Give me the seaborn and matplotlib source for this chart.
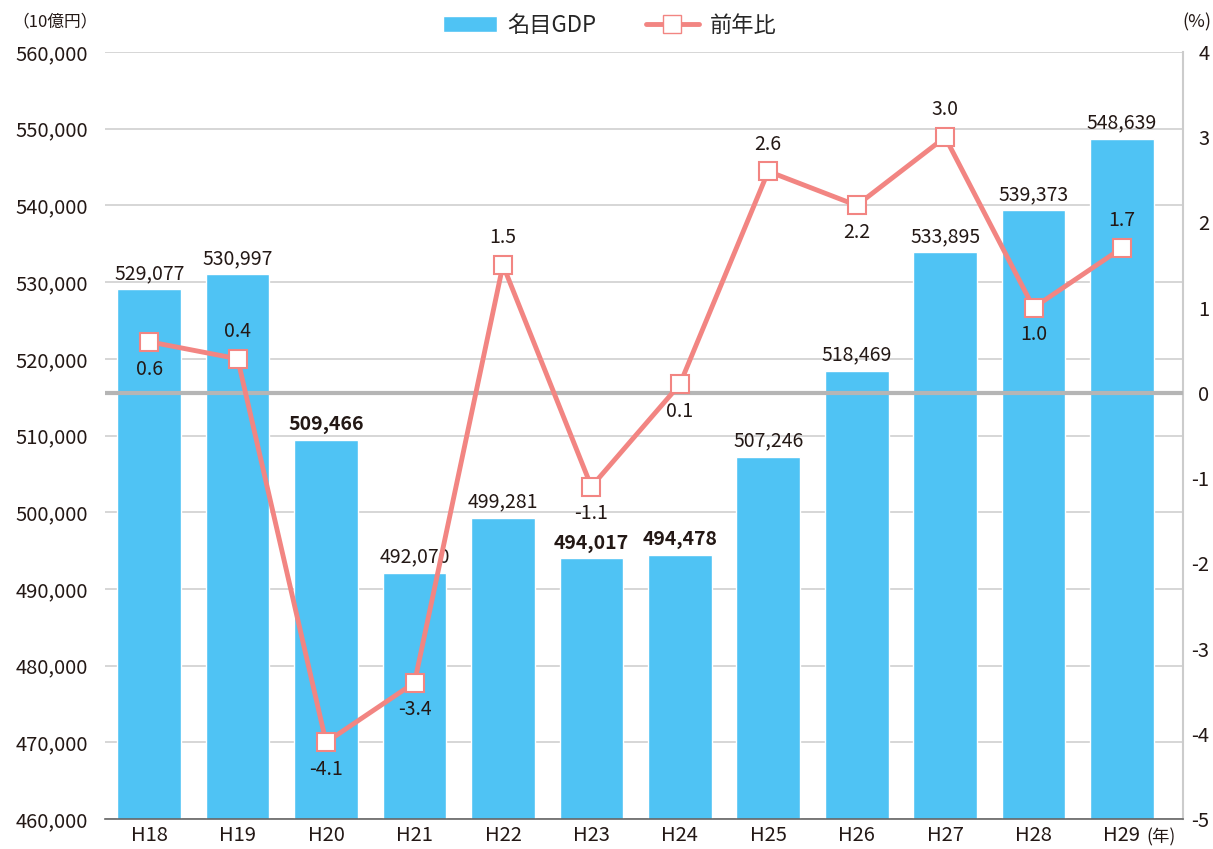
import numpy as np
import pandas as pd
import matplotlib.pyplot as plt
import seaborn as sns
from matplotlib.patches import Patch
from matplotlib.lines import Line2D

years = ['H18', 'H19', 'H20', 'H21', 'H22', 'H23', 'H24', 'H25', 'H26', 'H27', 'H28', 'H29']
gdp = [529077, 530997, 509466, 492070, 499281, 494017, 494478, 507246, 518469, 533895, 539373, 548639]
growth = [0.6, 0.4, -4.1, -3.4, 1.5, -1.1, 0.1, 2.6, 2.2, 3.0, 1.0, 1.7]
growth_pos = ['below', 'above', 'below', 'below', 'above', 'below', 'below', 'above', 'below', 'above', 'below', 'above']
bold_bars = ['H20', 'H23', 'H24']

sns.set_theme(style='white')
plt.rcParams['font.family'] = ['Noto Sans CJK JP', 'DejaVu Sans']

bar_color = '#4fc3f4'
line_color = '#f28582'
text_color = '#231815'

df = pd.DataFrame({'year': years, 'gdp': gdp, 'growth': growth})
xmax = len(years) - 0.5 + 0.19

fig = plt.figure(figsize=(12.13, 8.49), dpi=100)
ax = fig.add_axes([105 / 1213, 1 - 819 / 849, 1078 / 1213, 767 / 849])

sns.barplot(data=df, x='year', y='gdp', color=bar_color, width=0.72, saturation=1, ax=ax, zorder=2)
ax.set_ylim(460000, 560000)
ax.set_yticks(np.arange(460000, 560001, 10000))
ax.set_yticklabels([f'{v:,}' for v in range(460000, 560001, 10000)], fontsize=14.5, color=text_color)
ax.yaxis.grid(True, color='#d0d0d0', lw=1.2, zorder=0)
ax.set_axisbelow(True)
ax.set_xlabel('')
ax.set_ylabel('')
ax.tick_params(axis='x', labelsize=14.5, colors=text_color, length=0, pad=4)
ax.tick_params(axis='y', length=0, pad=12)
ax.set_xlim(-0.5, xmax)
for s in ['top', 'left']:
    ax.spines[s].set_visible(False)
ax.spines['bottom'].set_color('#666666')
ax.spines['bottom'].set_linewidth(1.2)
ax.spines['right'].set_color('#cccccc')
ax.spines['right'].set_linewidth(1.5)

for i, (y, v) in enumerate(zip(years, gdp)):
    ax.text(i, v + 700, f'{v:,}', ha='center', va='bottom', fontsize=14, color=text_color,
            fontweight='bold' if y in bold_bars else 'normal')

ax2 = ax.twinx()
ax2.set_ylim(-5, 4)
ax2.set_yticks(range(-5, 5))
ax2.set_yticklabels([str(t) for t in range(-5, 5)], fontsize=14.5, color=text_color, ha='right')
ax2.tick_params(axis='y', length=0, pad=19)
for s in ['top', 'left', 'bottom', 'right']:
    ax2.spines[s].set_visible(False)
ax2.axhline(0, color='#b5b5b5', lw=3, zorder=1)
sns.lineplot(x=np.arange(len(years)), y=growth, ax=ax2, color=line_color, lw=3.5,
             marker='s', markersize=13, markerfacecolor='white', markeredgecolor=line_color,
             markeredgewidth=1.5, zorder=3)
ax2.set_xlim(-0.5, xmax)

for i, (g, p) in enumerate(zip(growth, growth_pos)):
    off = 0.32 if p == 'above' else -0.32
    ax2.text(i, g + off, f'{g:.1f}', ha='center', va='center', fontsize=14, color=text_color)

fig.text(12 / 1213, 1 - 22 / 849, '（10億円）', fontsize=12, color=text_color, va='center', ha='left')
fig.text(1197 / 1213, 1 - 22 / 849, '(%)', fontsize=13, color=text_color, va='center', ha='center')
fig.text(1146 / 1213, 1 - 837 / 849, '(年)', fontsize=12.5, color=text_color, va='center', ha='left')

handles = [Patch(facecolor=bar_color, label='名目GDP'),
           Line2D([0], [0], color=line_color, lw=3.5, marker='s', markersize=13,
                  markerfacecolor='white', markeredgecolor=line_color, label='前年比')]
fig.legend(handles=handles, loc='center', bbox_to_anchor=(610 / 1213, 1 - 25 / 849), ncol=2,
           frameon=False, fontsize=16, handlelength=2.4, columnspacing=2.2, handletextpad=0.5)

fig.savefig('out.png', dpi=100)
